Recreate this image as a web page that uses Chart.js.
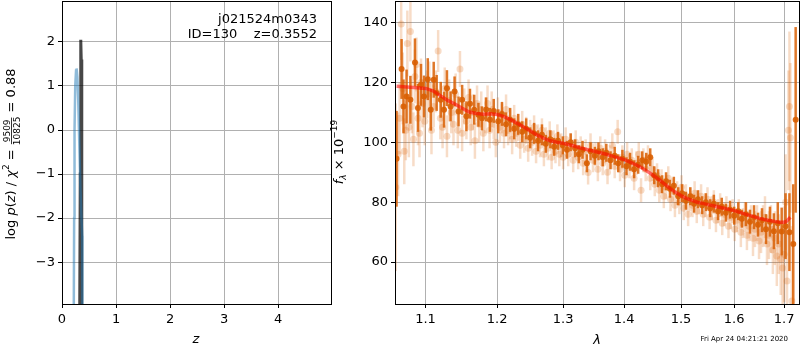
<!DOCTYPE html>
<html>
<head>
<meta charset="utf-8">
<script src="https://cdn.jsdelivr.net/npm/chart.js@4"></script>
<style>
  body { margin: 0; background: #fff; }
  #wrap { position: relative; width: 800px; height: 350px; }
  canvas { position: absolute; top: 0; }
</style>
</head>
<body>
<div id="wrap">
  <canvas id="pzChart" style="left:0px" width="340" height="350"></canvas>
  <canvas id="specChart" style="left:330px" width="470" height="350"></canvas>
</div>
<script>
// left panel: log p(z)
const zTicks = [0, 1, 2, 3, 4];
const logpTicks = [-3, -2, -1, 0, 1, 2];
const blueZ = [0.215, 0.225, 0.232, 0.245, 0.26, 0.27, 0.285, 0.30, 0.32, 0.34, 0.36, 0.375, 0.378];
const blueLogp = [-5, -2, 0, 1.0, 1.35, 1.4, 1.2, 0.7, -0.3, -1.3, -2.0, -2.4, -5];
const blackZ = [0.325, 0.338, 0.345, 0.350, 0.356, 0.362, 0.37];
const blackLogp = [-5, -1, 1.5, 2.05, 1.6, -1, -5];

// right panel: spectrum
const lamTicks = [1.1, 1.2, 1.3, 1.4, 1.5, 1.6, 1.7];
const fluxTicks = [60, 80, 100, 120, 140];

const darkLam = [1.062, 1.0685, 1.071, 1.075, 1.080, 1.086, 1.090, 1.094, 1.098, 1.103, 1.107, 1.111, 1.115, 1.1205, 1.125, 1.129, 1.134, 1.1395, 1.145, 1.150,
  1.156, 1.161, 1.167, 1.173, 1.178, 1.184, 1.1895, 1.195, 1.2015, 1.207, 1.213, 1.219, 1.225, 1.231, 1.237, 1.243, 1.249, 1.255, 1.261, 1.267,
  1.273, 1.280, 1.286, 1.292, 1.2995, 1.306, 1.312, 1.319, 1.325, 1.331, 1.338, 1.344, 1.351, 1.357, 1.364, 1.370, 1.377, 1.384, 1.390, 1.397,
  1.404, 1.410, 1.417, 1.424, 1.431, 1.438, 1.445, 1.452, 1.459, 1.466, 1.473, 1.480, 1.487, 1.495, 1.502, 1.509, 1.517, 1.524, 1.531, 1.539,
  1.546, 1.554, 1.561, 1.569, 1.576, 1.584, 1.592, 1.600, 1.608, 1.615, 1.623, 1.631, 1.639, 1.647, 1.655, 1.663, 1.671, 1.679, 1.687, 1.695,
  1.703, 1.711, 1.719, 1.724];
const darkFlux = [94.5, 124.5, 112, 115.3, 114.2, 126.7, 111.5, 119.2, 115.3, 121.1, 110.9, 120.9, 116.5, 114.2, 110.9, 118.1, 112, 117, 110.3, 114.2,
  108.7, 112.9, 110.9, 109.2, 108, 111, 107.5, 110.5, 107, 109.5, 106, 107.5, 104.5, 106, 103.5, 104.5, 101.5, 103, 100.5, 102.5,
  99.5, 101, 98.5, 100.5, 99, 97.5, 100, 98, 96, 97.5, 93, 97, 95.5, 97, 95, 96.5, 94, 95.5, 93, 94.5,
  92, 93.5, 91, 92.5, 94, 93.5, 95, 89, 88, 86, 87, 84.5, 85.5, 82, 83, 80.5, 82, 79.5, 81, 79,
  80, 78, 79.5, 77, 78.5, 76.5, 77.5, 75.5, 77, 74.5, 76, 73.5, 75, 72.5, 74, 71, 73.5, 70.3, 73, 70.2,
  72, 70, 66, 107.5];
const darkErr = [16, 10, 9, 9, 8, 8, 8, 7, 7, 7, 7, 6, 6, 6, 6, 6, 5, 5, 5, 5,
  5, 5, 5, 4, 4, 4, 4, 4, 4, 4, 4, 4, 3.5, 3.5, 3.5, 3.5, 3.5, 3.5, 3.5, 3.5,
  3, 3, 3, 3, 3, 3, 3, 3, 3, 3, 3, 3, 3, 3, 3, 3, 3, 3, 3, 3,
  3, 3, 3, 3, 3, 3, 3, 3, 3, 3, 3, 3, 3, 3, 3, 3, 3, 3, 3, 3,
  3, 3, 3, 3, 3, 3, 3, 3, 3, 3, 4, 4, 4, 4, 4, 5, 5, 6, 7, 8,
  11, 13, 20, 31];

const lightLam = [1.061, 1.064, 1.066, 1.068, 1.070, 1.072, 1.074, 1.076, 1.078, 1.080, 1.082, 1.084, 1.086, 1.088, 1.090, 1.092, 1.094, 1.096, 1.099, 1.102,
  1.105, 1.108, 1.111, 1.114, 1.117, 1.120, 1.123, 1.126, 1.129, 1.132, 1.135, 1.138, 1.141, 1.144, 1.147, 1.150, 1.153, 1.156, 1.159, 1.162,
  1.165, 1.168, 1.171, 1.174, 1.177, 1.180, 1.183, 1.186, 1.189, 1.192, 1.195, 1.198, 1.201, 1.204, 1.207, 1.210, 1.213, 1.216, 1.219, 1.222,
  1.225, 1.228, 1.231, 1.234, 1.237, 1.240, 1.243, 1.246, 1.249, 1.252, 1.255, 1.258, 1.261, 1.264, 1.267, 1.270, 1.273, 1.276, 1.279, 1.282,
  1.285, 1.288, 1.291, 1.294, 1.297, 1.300, 1.304, 1.308, 1.312, 1.316, 1.320, 1.324, 1.328, 1.332, 1.336, 1.340, 1.344, 1.348, 1.352, 1.356,
  1.360, 1.364, 1.368, 1.372, 1.376, 1.380, 1.384, 1.389, 1.393, 1.397, 1.401, 1.405, 1.409, 1.413, 1.417, 1.421, 1.425, 1.429, 1.433, 1.437,
  1.441, 1.445, 1.449, 1.453, 1.457, 1.461, 1.465, 1.469, 1.473, 1.477, 1.481, 1.485, 1.489, 1.493, 1.497, 1.501, 1.505, 1.509, 1.513, 1.517,
  1.521, 1.525, 1.529, 1.533, 1.537, 1.541, 1.545, 1.549, 1.553, 1.557, 1.561, 1.565, 1.569, 1.573, 1.577, 1.581, 1.585, 1.589, 1.593, 1.597,
  1.601, 1.605, 1.609, 1.613, 1.617, 1.621, 1.625, 1.629, 1.633, 1.637, 1.641, 1.645, 1.649, 1.653, 1.657, 1.661, 1.665, 1.669, 1.673, 1.677,
  1.681, 1.685, 1.689, 1.693, 1.697, 1.700, 1.703, 1.706, 1.709, 1.711, 1.713, 1.716];
const lightFlux = [85, 96, 108, 139.5, 118, 97, 104, 133, 105, 137, 112, 101, 122, 126, 108, 103, 120, 113, 107, 116,
  119, 104, 112, 117, 130.5, 108, 105, 118, 102, 114, 110, 106, 116, 104, 124.5, 103, 112, 107, 115, 105,
  110, 100.5, 113, 106, 111, 103, 109, 113, 104, 111, 106, 100, 110, 105, 108, 103, 111, 104, 106, 101,
  108, 103, 105, 99, 106, 101, 104, 98, 103, 100, 105, 97, 102, 99, 104, 96, 101, 98, 103, 95,
  100, 97, 102, 96, 99, 95, 101, 96, 99, 94, 100, 95, 98, 93, 97, 89.9, 99, 94, 96, 91,
  98, 93, 97, 90, 95, 99, 92, 103.5, 91, 95, 89, 96, 92, 94, 88, 93, 96, 84, 94, 91,
  95, 88, 91, 86, 89, 84, 87, 82, 85, 88, 81, 84, 79, 83, 80, 85, 78, 82, 76, 81,
  79, 83, 77, 80, 82, 76, 79, 81, 75, 78, 80, 74, 77, 79, 73, 76, 78, 72, 75, 77,
  71, 74, 76, 70, 73, 75, 69, 72, 74, 68, 71, 73, 67, 70, 72, 75, 66, 69, 71, 64,
  68, 62, 66, 61, 58, 62.6, 80, 53.7, 104, 112, 101.5, 47];
const lightErr = [28, 14, 12, 12, 12, 11, 10, 11, 10, 10, 9, 9, 9, 9, 9, 8, 8, 8, 8, 8,
  8, 8, 7, 7, 7, 7, 7, 7, 7, 7, 7, 7, 7, 6, 6, 6, 6, 6, 6, 6,
  6, 6, 6, 6, 6, 6, 6, 6, 6, 6, 5, 5, 5, 5, 5, 5, 5, 5, 5, 5,
  4.5, 4.5, 4.5, 4.5, 4.5, 4.5, 4.5, 4.5, 4.5, 4.5, 4, 4, 4, 4, 4, 4, 4, 4, 4, 4,
  4, 4, 4, 4, 4, 4, 4, 4, 4, 4, 4, 4, 4, 4, 4, 4, 4, 4, 4, 4,
  4, 4, 4, 4, 4, 4, 4, 4, 4, 4, 4, 4, 4, 4, 4, 4, 4, 4, 4, 4,
  4, 4, 4, 4, 4, 4, 4, 4, 4, 4, 4, 4, 4, 4, 4, 4, 4, 4, 4, 4,
  4, 4, 4, 4, 4, 4, 4, 4, 4, 4, 4, 4, 4, 4, 4, 4, 4, 4, 4, 4,
  4, 4, 5, 5, 5, 5, 5, 5, 5, 6, 6, 6, 6, 7, 7, 7, 7, 8, 8, 8,
  9, 10, 10, 12, 14, 16, 16, 20, 20, 25, 25, 25];

const modelLam = [1.062, 1.08, 1.10, 1.11, 1.12, 1.13, 1.14, 1.15, 1.16, 1.17, 1.18, 1.19, 1.20, 1.21, 1.22, 1.23, 1.24, 1.25, 1.26, 1.27,
  1.28, 1.29, 1.30, 1.31, 1.32, 1.33, 1.34, 1.35, 1.36, 1.37, 1.38, 1.39, 1.40, 1.41, 1.42, 1.43, 1.44, 1.45, 1.46, 1.47,
  1.48, 1.49, 1.50, 1.51, 1.52, 1.53, 1.54, 1.55, 1.56, 1.57, 1.58, 1.59, 1.60, 1.61, 1.62, 1.63, 1.64, 1.65, 1.66, 1.67,
  1.68, 1.69, 1.70, 1.705, 1.71, 1.713];
const modelFlux = [118.7, 118.4, 118.0, 117.2, 115.6, 114.0, 112.8, 111.4, 110.1, 109.6, 109.4, 109.5, 109.3, 108.6, 107.5, 106.3, 105.0, 103.7, 102.4, 101.3,
  100.5, 100.0, 99.7, 99.2, 98.6, 98.0, 97.5, 97.0, 96.5, 96.0, 95.4, 94.8, 94.2, 93.4, 92.5, 91.5, 90.3, 89.0, 87.6, 86.1,
  84.6, 83.3, 82.2, 81.3, 80.6, 80.0, 79.6, 79.2, 78.8, 78.4, 78.0, 77.6, 77.2, 76.7, 76.1, 75.6, 75.1, 74.6, 74.2, 73.9,
  73.6, 73.3, 73.3, 73.6, 74.5, 75.0];

const FONT = 'DejaVu Sans';
Chart.defaults.font.family = FONT;
Chart.defaults.font.size = 13;
Chart.defaults.color = '#000';
Chart.defaults.animation = false;

function pts(xs, ys) {
  return xs.map((x, i) => ({ x: x, y: ys[i] }));
}

// draw a row of text pieces centred on (0,0) in the current transform
function drawPieces(ctx, pieces) {
  let total = 0;
  pieces.forEach(p => { ctx.font = p.font; p.w = p.w || ctx.measureText(p.text).width; total += p.w; });
  let x = -total / 2;
  pieces.forEach(p => {
    ctx.font = p.font;
    if (p.stack) {
      ctx.textAlign = 'center';
      ctx.fillText(p.stack[0], x + p.w / 2, -4);
      ctx.fillText(p.stack[1], x + p.w / 2, 6);
      ctx.fillRect(x + 1, -1, p.w - 2, 0.8);
      ctx.textAlign = 'left';
    } else {
      ctx.fillText(p.text, x, p.dy || 0);
    }
    x += p.w;
  });
}

const frame = {
  id: 'frame',
  afterDraw(chart, args, opts) {
    const ctx = chart.ctx, a = chart.chartArea;
    ctx.save();
    ctx.strokeStyle = '#000';
    ctx.lineWidth = 1;
    ctx.strokeRect(Math.round(a.left) + 0.5, Math.round(a.top) + 0.5, Math.round(a.right - a.left), Math.round(a.bottom - a.top));
    ctx.fillStyle = '#000';
    ctx.textBaseline = 'middle';
    opts.draw && opts.draw(ctx, chart);
    ctx.restore();
  }
};

const errorBars = {
  id: 'errorBars',
  beforeDatasetDraw(chart, args) {
    const ds = chart.data.datasets[args.index];
    if (!ds.err) return;
    const xs = chart.scales.x, ys = chart.scales.y, ctx = chart.ctx, a = chart.chartArea;
    ctx.save();
    ctx.beginPath();
    ctx.rect(a.left, a.top, a.right - a.left, a.bottom - a.top);
    ctx.clip();
    ctx.strokeStyle = ds.barColor;
    ctx.lineWidth = ds.barWidth;
    ds.data.forEach((p, i) => {
      const px = xs.getPixelForValue(p.x);
      ctx.beginPath();
      ctx.moveTo(px, ys.getPixelForValue(p.y - ds.err[i]));
      ctx.lineTo(px, ys.getPixelForValue(p.y + ds.err[i]));
      ctx.stroke();
    });
    ctx.restore();
  }
};

function axis(min, max, ticks, fmt, fit, dir) {
  return {
    type: 'linear',
    min: min,
    max: max,
    afterBuildTicks: s => { s.ticks = ticks.map(v => ({ value: v })); },
    afterFit: s => {
      if (dir === 'y') s.width = fit; else s.height = fit;
      s.paddingTop = s.paddingBottom = s.paddingLeft = s.paddingRight = 0;
    },
    ticks: { callback: fmt, padding: dir === 'y' ? 3 : 4, autoSkip: false, maxRotation: 0, font: { size: 13 } },
    grid: { color: '#b0b0b0', lineWidth: 1, tickColor: '#000', tickLength: 4 },
    border: { display: false }
  };
}
const minus = v => String(v).replace('-', '\u2212');

new Chart(document.getElementById('pzChart'), {
  type: 'scatter',
  data: {
    datasets: [
      { data: pts(blueZ, blueLogp), showLine: true, pointRadius: 0, borderColor: 'rgba(31,119,180,0.5)', borderWidth: 2.5, clip: 0 },
      { data: pts(blackZ, blackLogp), showLine: true, pointRadius: 0, borderColor: 'rgba(0,0,0,0.72)', borderWidth: 3, clip: 0 }
    ]
  },
  options: {
    responsive: false,
    layout: { autoPadding: false, padding: { top: 1, right: 9, left: 0, bottom: 0 } },
    plugins: {
      legend: { display: false },
      tooltip: { enabled: false },
      frame: {
        draw(ctx) {
          ctx.font = '13px ' + FONT;
          ctx.textAlign = 'right';
          ctx.fillText('j021524m0343', 317, 20);
          ctx.fillText('ID=130    z=0.3552', 317, 35);
          ctx.textAlign = 'center';
          ctx.font = 'italic 13px ' + FONT;
          ctx.fillText('z', 196, 340);
          ctx.save();
          ctx.translate(12, 154);
          ctx.rotate(-Math.PI / 2);
          ctx.textAlign = 'left';
          const n = '13px ' + FONT, it = 'italic 13px ' + FONT, sm = '9px ' + FONT;
          drawPieces(ctx, [
            { text: 'log ', font: n }, { text: 'p', font: it }, { text: '(', font: n }, { text: 'z', font: it },
            { text: ') / ', font: n }, { text: '\u03c7', font: it }, { text: '2', font: sm, dy: -5 },
            { text: ' = ', font: n }, { stack: ['9509', '10825'], text: '10825', font: sm },
            { text: ' = 0.88', font: n }
          ]);
          ctx.restore();
        }
      }
    },
    scales: {
      x: axis(0, 4.98, zTicks, v => String(v), 46, 'x'),
      y: axis(-3.95, 2.93, logpTicks, v => minus(v), 62, 'y')
    }
  },
  plugins: [frame]
});

const orange = 'rgba(217,95,2,';
new Chart(document.getElementById('specChart'), {
  type: 'scatter',
  data: {
    datasets: [
      { data: pts(lightLam, lightFlux), err: lightErr, barColor: orange + '0.22)', barWidth: 2.5,
        pointRadius: 3.5, pointBorderWidth: 0, backgroundColor: orange + '0.22)', order: 3, clip: 0 },
      { data: pts(darkLam, darkFlux), err: darkErr, barColor: orange + '0.85)', barWidth: 2.5,
        pointRadius: 3, pointBorderWidth: 0, backgroundColor: orange + '0.9)', order: 2, clip: 0 },
      { data: pts(modelLam, modelFlux), showLine: true, pointRadius: 0, borderColor: 'rgba(255,0,0,0.55)', borderWidth: 3.5, order: 1, clip: 0 }
    ]
  },
  options: {
    responsive: false,
    layout: { autoPadding: false, padding: { top: 1, right: 1, left: 0, bottom: 0 } },
    plugins: {
      legend: { display: false },
      tooltip: { enabled: false },
      frame: {
        draw(ctx) {
          ctx.textAlign = 'center';
          ctx.font = 'italic 13px ' + FONT;
          ctx.fillText('\u03bb', 267, 341);
          ctx.font = '7px ' + FONT;
          ctx.textAlign = 'right';
          ctx.fillText('Fri Apr 24 04:21:21 2020', 458, 339);
          ctx.save();
          ctx.translate(10, 152);
          ctx.rotate(-Math.PI / 2);
          ctx.textAlign = 'left';
          const n = '13px ' + FONT, it = 'italic 13px ' + FONT, smi = 'italic 9px ' + FONT, sm = '9px ' + FONT;
          drawPieces(ctx, [
            { text: 'f', font: it }, { text: '\u03bb', font: smi, dy: 4 }, { text: ' \u00d7 10', font: n }, { text: '\u221219', font: sm, dy: -5 }
          ]);
          ctx.restore();
        }
      }
    },
    scales: {
      x: Object.assign(axis(1.06, 1.731, lamTicks, v => v.toFixed(1), 46, 'x'), { type: 'logarithmic' }),
      y: axis(46, 147.2, fluxTicks, v => String(v), 65, 'y')
    }
  },
  plugins: [frame, errorBars]
});
</script>
</body>
</html>
